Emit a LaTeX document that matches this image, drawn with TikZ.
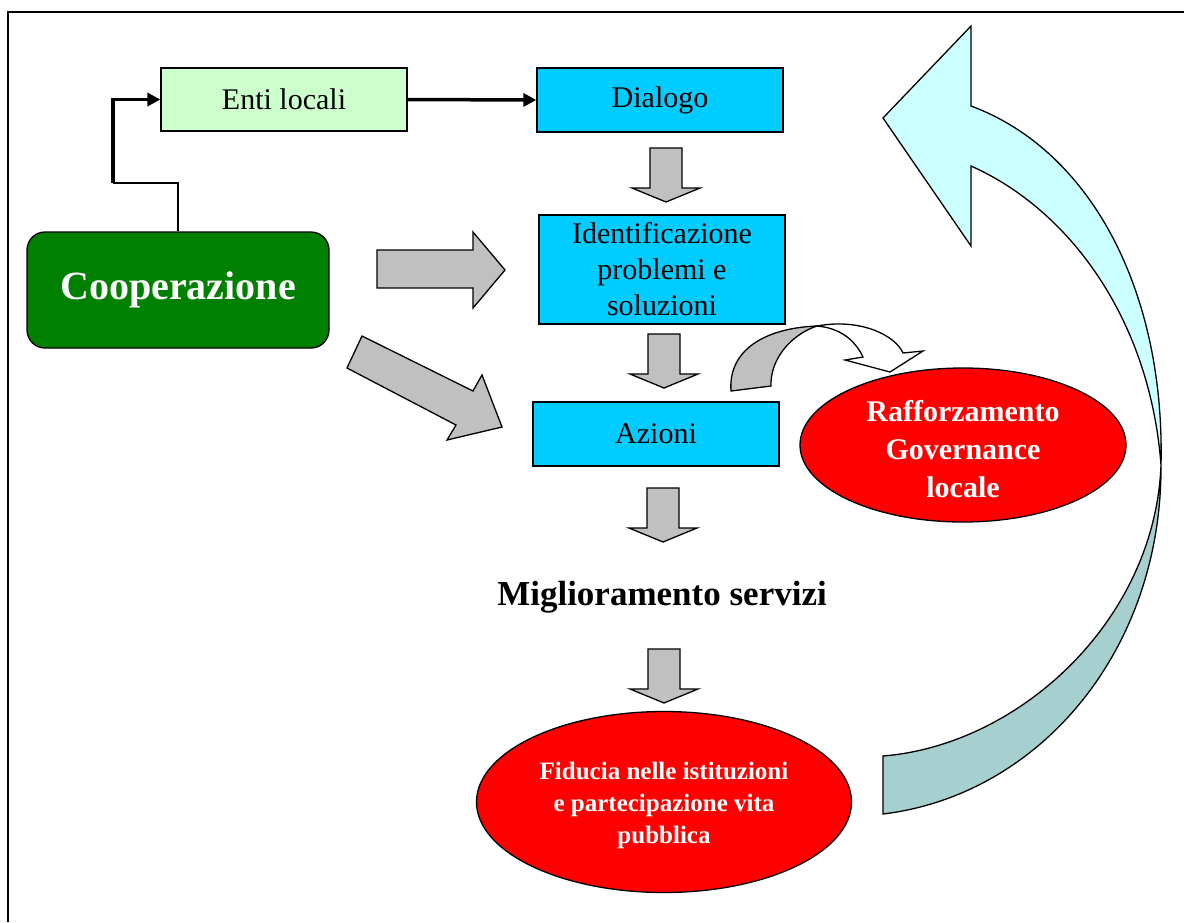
\documentclass[tikz,border=0pt]{standalone}
\usepackage{fontspec}
\setmainfont{Liberation Serif}
\usetikzlibrary{shapes.geometric,arrows.meta}
\definecolor{bcyan}{HTML}{00CCFF}
\definecolor{lgreen}{HTML}{CCFFCC}
\definecolor{dgreen}{HTML}{008000}
\definecolor{agray}{HTML}{C0C0C0}
\definecolor{ared}{HTML}{FF0000}
\definecolor{lcyan}{HTML}{CCFFFF}
\definecolor{dteal}{RGB}{166,207,207}
\begin{document}
\begin{tikzpicture}[x=1pt,y=-1pt,
  box/.style={draw=black, line width=1.3pt, minimum width=246pt, inner sep=0pt, align=center, font=\fontsize{30}{36}\selectfont},
  ell/.style={draw=black, line width=1.3pt, ellipse, fill=ared, inner sep=0pt},
  elltext/.style={text=white, align=center, inner sep=0pt},
  blockarrow/.style={draw=black, line width=1.3pt, fill=agray, line join=miter},
  link/.style={draw=black, line width=1.4pt},
  thicklink/.style={draw=black, line width=3.5pt, -{Triangle[length=13pt,width=13pt]}},
  downarr/.pic={\path[blockarrow] (-16,0) -- (-16,40) -- (-34,40) -- (0,54) -- (34,40) -- (16,40) -- (16,0) -- cycle;}
]
\useasboundingbox (0,0) rectangle (1184,922);
% frame
\draw[line width=2pt] (1184,12) -- (8,12) -- (8,922);

% boxes
\node[box, fill=lgreen, minimum height=63pt] (enti) at (284,99.5) {Enti locali};
\node[box, fill=bcyan, minimum height=64pt] (dial) at (660,100) {Dialogo};
\node[box, fill=bcyan, minimum height=109pt] (ident) at (662,269.5) {Identificazione\\problemi e\\soluzioni};
\node[box, fill=bcyan, minimum height=64pt] (az) at (656,434) {Azioni};
\node[draw=black, line width=1.3pt, fill=dgreen, rounded corners=18pt, minimum width=302pt, minimum height=116pt, inner sep=0pt, text=white, font=\bfseries\fontsize{40}{48}\selectfont] (coop) at (178,290) {Cooperazione};
\node[font=\bfseries\fontsize{35}{40}\selectfont, inner sep=0pt] (migl) at (662,597) {Miglioramento servizi};

% ellipses
\node[ell, minimum width=326pt, minimum height=154pt] (raff) at (963,445) {};
\node[elltext, font=\bfseries\fontsize{30}{38}\selectfont] (raffT) at (963,449) {Rafforzamento\\Governance\\locale};
\node[ell, minimum width=375pt, minimum height=181pt] (fid) at (664,802) {};
\node[elltext, font=\bfseries\fontsize{25}{32}\selectfont] (fidT) at (664,805) {Fiducia nelle istituzioni\\e partecipazione vita\\pubblica};

% connectors
\coordinate (c1) at (178,183);
\coordinate (c2) at (113,183);
\draw[link] (coop.north) -- (c1) -- (c2);
\draw[thicklink] (c2) |- (enti.west);
\draw[thicklink] (enti.east) -- (dial.west);

% gray block arrows
\pic at (666,148) {downarr};
\pic at (664,334) {downarr};
\pic at (663,488) {downarr};
\pic at (664,649) {downarr};
\path[blockarrow] (377,250) -- (473,250) -- (473,232) -- (505,270) -- (473,308) -- (473,288) -- (377,288) -- cycle;
\path[blockarrow] (362,336) -- (473,391) -- (482,375) -- (502,427) -- (447,440) -- (456,425) -- (347,368) -- cycle;

% small curved arrow (Azioni -> Rafforzamento)
\path[blockarrow] (731,391) .. controls (728,350) and (765,328) .. (817,326)
   .. controls (790,335) and (770,360) .. (771,386) -- cycle;
\path[draw=black, line width=1.3pt, fill=white] (817,326) .. controls (860,318) and (895,335) .. (903,353)
   -- (923,351) -- (890,372) -- (845,360) -- (863,357)
   .. controls (855,340) and (840,328) .. (817,326) -- cycle;

% big curved feedback arrow
\path[draw=black, line width=1.3pt, fill=dteal] (883,756) -- (883,814)
   .. controls (1040,795) and (1162,650) .. (1161,465)
   .. controls (1155,620) and (1020,745) .. (883,756) -- cycle;
\path[draw=black, line width=1.3pt, fill=lcyan, line join=miter] (971,166) -- (971,246) -- (883,118) -- (971,26) -- (971,106)
   .. controls (1090,150) and (1165,290) .. (1161,465)
   .. controls (1150,320) and (1070,210) .. (971,166) -- cycle;
\end{tikzpicture}
\end{document}
